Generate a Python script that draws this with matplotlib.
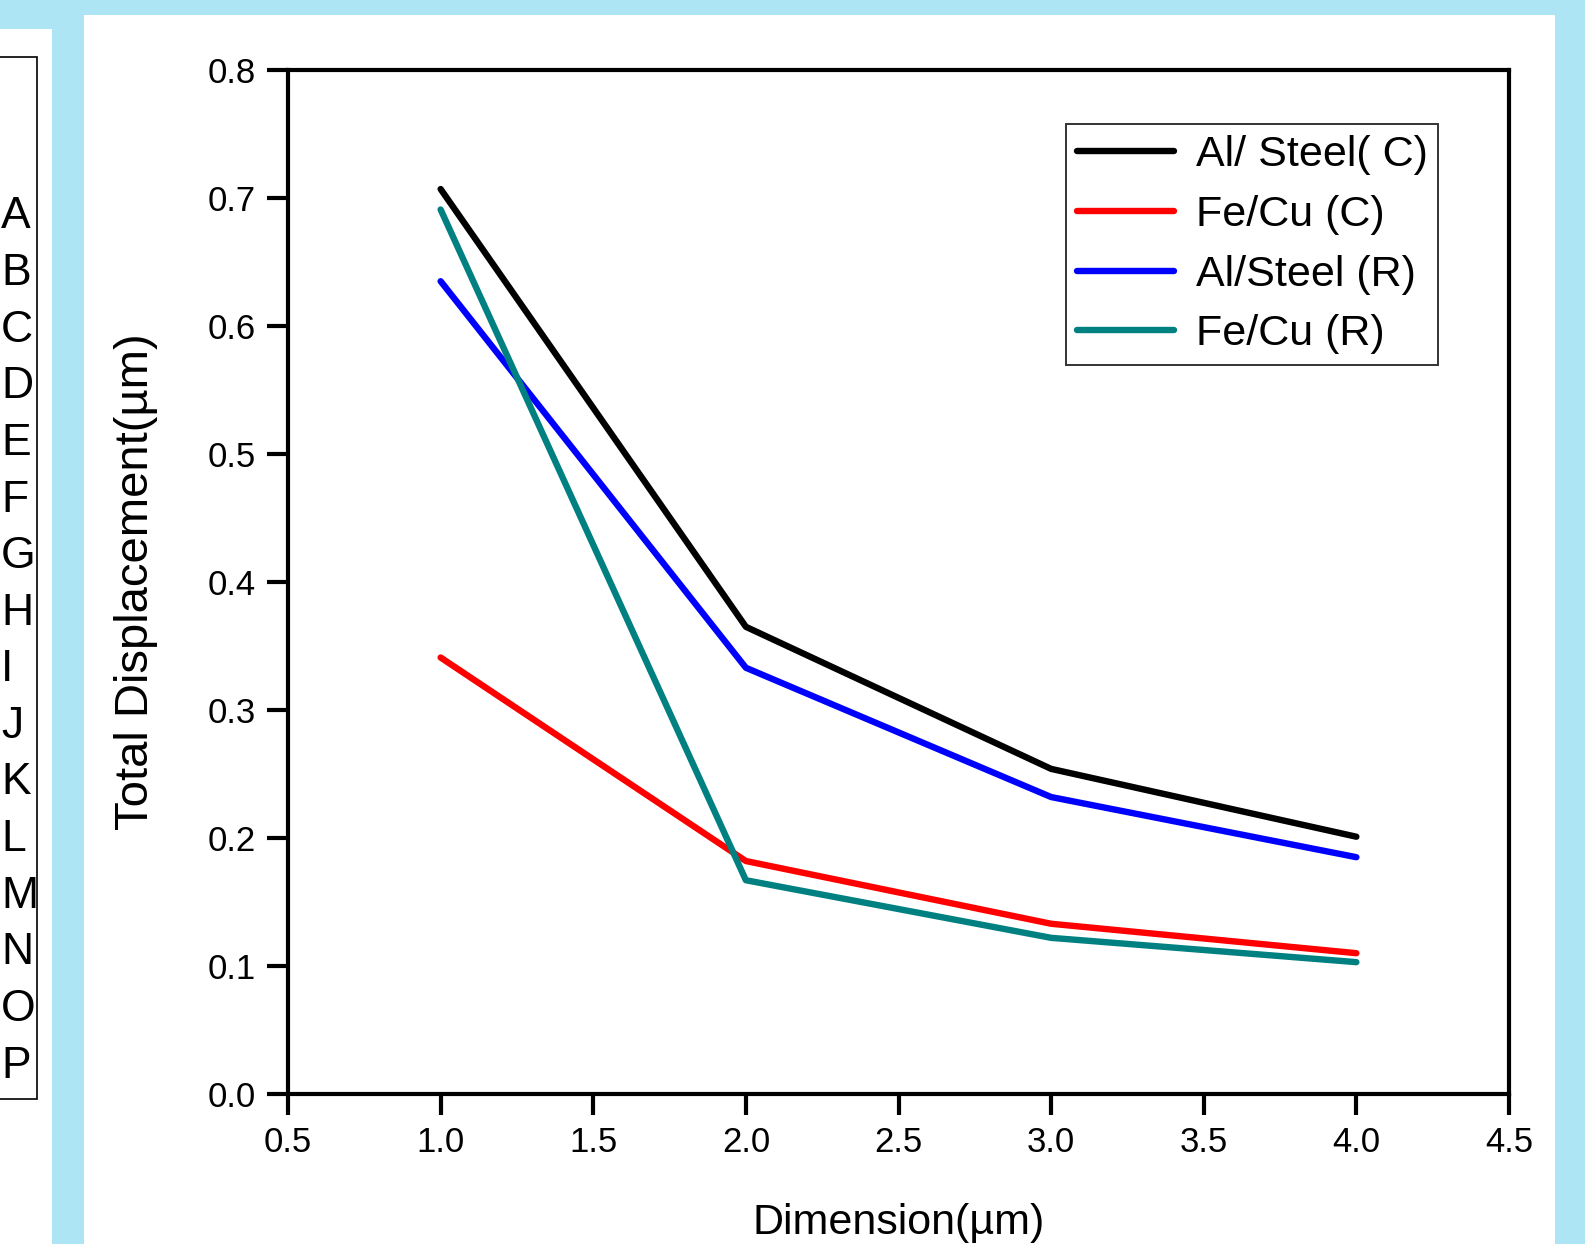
import matplotlib.pyplot as plt
from matplotlib.patches import Rectangle

plt.rcParams['font.family'] = ['Liberation Sans', 'DejaVu Sans']

# data
dimension = [1.0, 2.0, 3.0, 4.0]
al_steel_c = [0.707, 0.365, 0.254, 0.201]
fe_cu_c = [0.341, 0.182, 0.133, 0.110]
al_steel_r = [0.635, 0.333, 0.232, 0.185]
fe_cu_r = [0.691, 0.167, 0.122, 0.103]

series = [
    ("Al/ Steel( C)", al_steel_c, "black"),
    ("Fe/Cu (C)", fe_cu_c, "#ff0000"),
    ("Al/Steel (R)", al_steel_r, "#0000ff"),
    ("Fe/Cu (R)", fe_cu_r, "#008080"),
]
letters = list("ABCDEFGHIJKLMNOP")

W, H = 1585, 1244
fig = plt.figure(figsize=(W / 100, H / 100), dpi=100)
fig.patch.set_facecolor("#aee5f5")

# white panels (pixel coords -> figure fraction), kept behind the axes
def px_rect(x0, y0, x1, y1, **kw):
    fig.patches.append(Rectangle((x0 / W, 1 - y1 / H), (x1 - x0) / W, (y1 - y0) / H,
                                 transform=fig.transFigure, zorder=-5, **kw))

px_rect(0, 29, 52, H, facecolor="white", edgecolor="none")
px_rect(84, 15, 1555, H, facecolor="white", edgecolor="none")
px_rect(-5, 57, 37, 1099, facecolor="none", edgecolor="black", linewidth=1.2)

for i, letter in enumerate(letters):
    y = 217 + i * 56.6
    fig.text(1 / W, 1 - y / H, letter, fontsize=32, ha="left", va="center")

ax = fig.add_axes([288 / W, 1 - 1094 / H, (1509 - 288) / W, (1094 - 70) / H])
ax.set_facecolor("white")
for label, vals, color in series:
    ax.plot(dimension, vals, color=color, lw=4.6, label=label,
            solid_capstyle="round", solid_joinstyle="round")

ax.set_xlim(0.5, 4.5)
ax.set_ylim(0.0, 0.8)
ax.set_xticks([0.5, 1.0, 1.5, 2.0, 2.5, 3.0, 3.5, 4.0, 4.5])
ax.set_yticks([0.0, 0.1, 0.2, 0.3, 0.4, 0.5, 0.6, 0.7, 0.8])
ax.xaxis.set_major_formatter(plt.FormatStrFormatter("%.1f"))
ax.yaxis.set_major_formatter(plt.FormatStrFormatter("%.1f"))
ax.tick_params(direction="out", length=15, width=3, labelsize=25, pad=8)
for sp in ax.spines.values():
    sp.set_linewidth(3)

ax.set_xlabel("Dimension(µm)", fontsize=31, labelpad=32)
ax.set_ylabel("Total Displacement(µm)", fontsize=34, labelpad=36)

leg = ax.legend(loc="upper right", bbox_to_anchor=(0.942, 0.947), fontsize=31,
                frameon=True, fancybox=False, handlelength=2.25, handletextpad=0.5,
                borderpad=0.25, labelspacing=0.46, borderaxespad=0)
leg.get_frame().set_edgecolor("black")
leg.get_frame().set_linewidth(1.4)

fig.savefig("out.png", dpi=100, facecolor=fig.get_facecolor())
